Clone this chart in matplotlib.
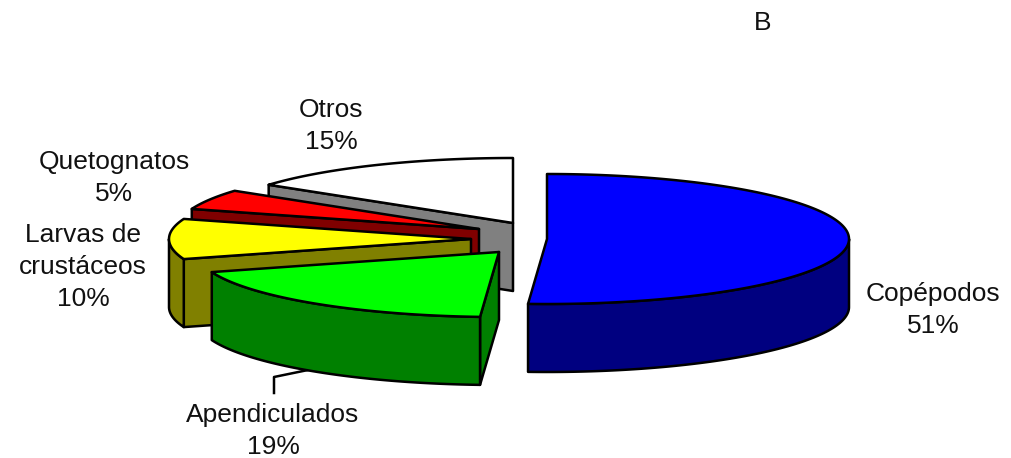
import numpy as np
import matplotlib
matplotlib.use("Agg")
import matplotlib.pyplot as plt

# data
names = ["Copépodos", "Apendiculados", "Larvas de\ncrustáceos", "Quetognatos", "Otros"]
values = [51, 19, 10, 5, 15]
panel = "B"

# styling / layout
top_colors = ["#0000FF", "#00FF00", "#FFFF00", "#FF0000", "#FFFFFF"]
side_colors = ["#000080", "#008000", "#808000", "#800000", "#808080"]
centers_x = [547, 499, 471, 479, 513]
centers_y = [239, 252, 239, 229, 223]
label_x = [933, 273, 83, 114, 331]
label_y = [310, 431, 267, 178, 126]
RX, RY, DEPTH = 302, 65, 68
LW = 1.8
FS = 19

plt.rcParams["font.family"] = ["Liberation Sans", "DejaVu Sans"]
fig = plt.figure(figsize=(10.11, 4.58), dpi=100)
ax = fig.add_axes([0, 0, 1, 1])
ax.set_xlim(0, 1011)
ax.set_ylim(458, 0)
ax.axis("off")

fractions = np.array(values) / sum(values) * 360
ends = np.cumsum(fractions)
starts = ends - fractions


def rim(cx, cy, a0, a1, dy=0):
    t = np.radians(np.linspace(a0, a1, max(int(abs(a1 - a0)) * 2, 2)))
    return cx + RX * np.sin(t), cy - RY * np.cos(t) + dy


def poly(xs, ys, color):
    ax.fill(xs, ys, facecolor=color, edgecolor="black", linewidth=LW, joinstyle="round")


def cut(cx, cy, a, color):
    x, y = rim(cx, cy, a, a)
    xe, ye = x[0], y[0]
    poly([cx, xe, xe, cx], [cy, ye, ye + DEPTH, cy + DEPTH], color)


# leader line of the Apendiculados label
ax.plot([274, 274, 308], [393, 377, 370], color="black", linewidth=LW, zorder=1)

# back slices first, front slices last
for i in [4, 3, 2, 1, 0]:
    cx, cy = centers_x[i], centers_y[i]
    a0, a1 = starts[i], ends[i]
    # only the cut face turned toward the viewer shows
    if a0 >= 180:
        cut(cx, cy, a0, side_colors[i])
    v0, v1 = max(a0, 90), min(a1, 270)
    if v1 > v0:
        xt, yt = rim(cx, cy, v0, v1)
        xb, yb = rim(cx, cy, v1, v0, DEPTH)
        poly(np.r_[xt, xb], np.r_[yt, yb], side_colors[i])
    xt, yt = rim(cx, cy, a0, a1)
    poly(np.r_[cx, xt], np.r_[cy, yt], top_colors[i])

for n, v, x, y in zip(names, values, label_x, label_y):
    ax.text(x, y, f"{n}\n{v}%", ha="center", va="center", fontsize=FS,
            linespacing=1.42, color="#111111")
ax.text(763, 23, panel, ha="center", va="center", fontsize=FS, color="#111111")

fig.savefig("out.png", dpi=100, facecolor="white")
